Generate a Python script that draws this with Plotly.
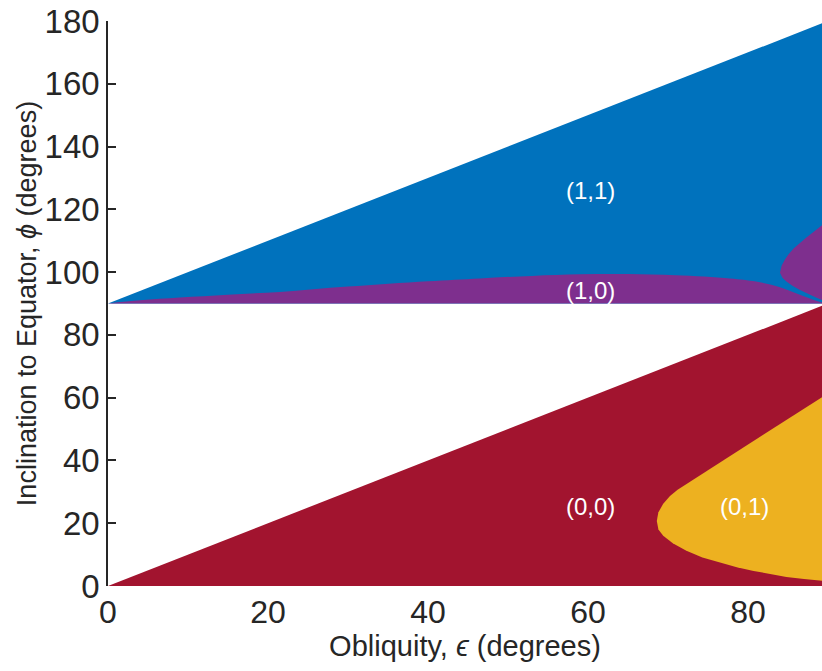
import plotly.graph_objects as go

# ---- data (obliquity eps, inclination phi, degrees) ----
# whole triangular domains
red_eps = [0, 90, 90]
red_phi = [0, 0, 90]
blue_eps = [0, 90, 90]
blue_phi = [90, 90, 180]

# (0,1) region boundary (upper branch then lower branch)
yellow_up_eps = [68.6, 68.8, 69.4, 70.25, 71.2, 72.3, 74.3, 76.5, 78.6, 80.7, 82.8, 84.8, 87.0, 89.25, 91]
yellow_up_phi = [20.7, 23.5, 26.2, 28.7, 30.7, 32.5, 35.9, 39.4, 42.8, 46.2, 49.6, 52.9, 56.5, 60.2, 63.0]
yellow_lo_eps = [68.6, 68.8, 69.4, 70.6, 72.3, 74.3, 76.5, 78.6, 80.7, 82.8, 84.8, 87.0, 89.25, 91]
yellow_lo_phi = [20.7, 18.0, 16.0, 13.6, 11.2, 9.1, 7.4, 6.0, 4.8, 3.8, 2.9, 2.2, 1.6, 1.2]

# (1,0) band upper boundary (band sits on phi = 90)
band_eps = [0, 4, 9, 15, 21.5, 30, 40, 46.5, 53, 59, 65, 71, 77.75, 81, 84, 86, 87.75, 89.25, 90]
band_phi = [90, 91.0, 91.9, 92.8, 93.7, 95.4, 97.1, 98.0, 98.8, 99.3, 99.4, 99.0, 98.0, 97.0, 95.2, 93.3, 91.6, 90.3, 90]
band_base_eps = [0, 90]
band_base_phi = [90, 90]

# (1,0) right-hand lobe
lobe_up_eps = [84.0, 84.2, 84.6, 85.1, 85.7, 86.5, 87.3, 88.3, 89.25, 91]
lobe_up_phi = [99.8, 102.0, 103.9, 105.8, 107.5, 109.3, 111.0, 113.0, 115.0, 118.5]
lobe_lo_eps = [84.0, 84.3, 84.8, 85.6, 86.5, 87.6, 88.5, 89.25, 91]
lobe_lo_phi = [99.8, 98.2, 97.0, 95.6, 94.3, 92.9, 91.9, 91.1, 90.6]

labels = ["(1,1)", "(1,0)", "(0,0)", "(0,1)"]
label_eps = [60.25, 60.25, 60.25, 79.6]
label_phi = [126, 94.3, 25.3, 25.3]

BLUE = "#0072BD"
PURPLE = "#7E2F8E"
RED = "#A2142F"
YELLOW = "#EDB120"
INK = "#262626"
FONT = "Liberation Sans, Arial, Helvetica, sans-serif"

fig = go.Figure()

def poly(x, y, color, shape="linear", fill="toself"):
    fig.add_trace(go.Scatter(x=x, y=y, mode="lines", fill=fill, fillcolor=color,
                             line=dict(width=0, color=color, shape=shape),
                             hoverinfo="skip", showlegend=False))

poly(red_eps + [red_eps[0]], red_phi + [red_phi[0]], RED)
poly(yellow_up_eps + yellow_lo_eps[::-1], yellow_up_phi + yellow_lo_phi[::-1], YELLOW)
poly(blue_eps + [blue_eps[0]], blue_phi + [blue_phi[0]], BLUE)
fig.add_trace(go.Scatter(x=band_base_eps, y=band_base_phi, mode="lines", line=dict(width=0),
                         hoverinfo="skip", showlegend=False))
poly(band_eps, band_phi, PURPLE, "spline", fill="tonexty")
poly(lobe_up_eps + lobe_lo_eps[::-1], lobe_up_phi + lobe_lo_phi[::-1], PURPLE)

for t, x, y in zip(labels, label_eps, label_phi):
    fig.add_annotation(x=x, y=y, text=t, showarrow=False,
                       font=dict(family=FONT, size=24, color="white"))

fig.update_layout(
    width=822, height=671,
    margin=dict(l=108, r=0, t=21, b=85),
    paper_bgcolor="white", plot_bgcolor="white",
    font=dict(family=FONT, color=INK),
    xaxis=dict(range=[0, 89.25], tickvals=[0, 20, 40, 60, 80], showgrid=False, zeroline=False,
               showline=False, ticks="", tickfont=dict(size=32, color=INK), automargin=False,
               ticklabelstandoff=4,
               title=dict(text="Obliquity, <i>ϵ</i> (degrees)", font=dict(size=29, color=INK), standoff=4)),
    yaxis=dict(range=[0, 180], tickvals=list(range(0, 181, 20)), showgrid=False, zeroline=False,
               showline=True, linecolor=INK, linewidth=1.5, ticks="inside", ticklen=8, tickwidth=1.5,
               tickcolor=INK, tickfont=dict(size=33, color=INK), automargin=False,
               title=dict(text="Inclination to Equator, <i>ϕ</i> (degrees)", font=dict(size=27, color=INK), standoff=0)),
)

fig.write_html("out.html", config={"displayModeBar": False},
               post_script="document.body.style.margin='0';document.body.style.overflow='hidden';")
